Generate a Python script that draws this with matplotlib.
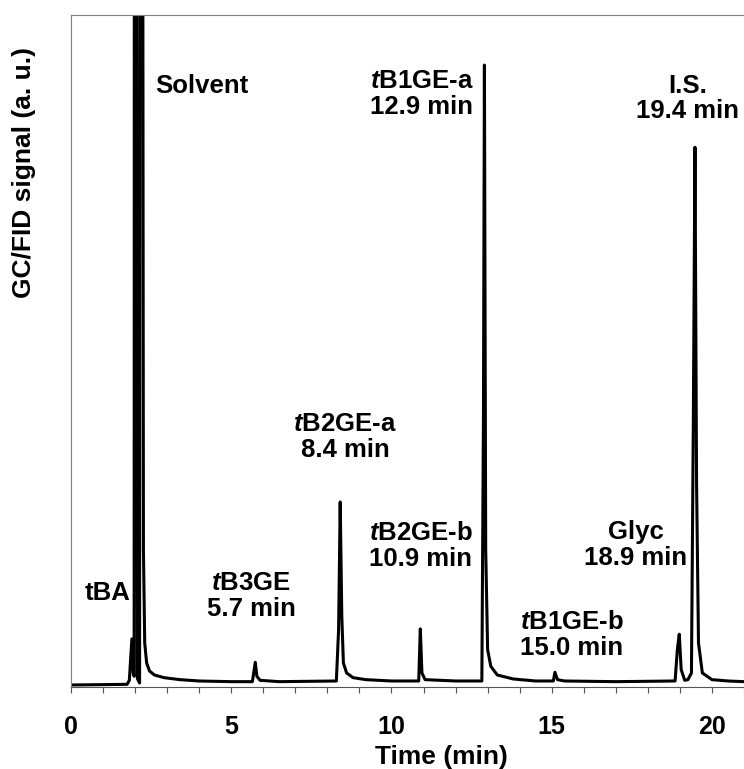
import matplotlib
matplotlib.use("Agg")
import matplotlib.pyplot as plt
from matplotlib.ticker import MultipleLocator

# ----------------------------------------------------------------------
# Data (time in min, signal in a.u.)
# ----------------------------------------------------------------------
time_min = [
    0.00, 1.75, 1.82, 1.90, 1.94, 1.97, 1.99, 2.07, 2.14, 2.18,
    2.26, 2.30, 2.36, 2.45, 2.60, 2.90, 3.40, 4.00, 5.00, 5.66,
    5.75, 5.80, 5.90, 6.50, 8.28, 8.35, 8.40, 8.45, 8.50, 8.60,
    8.80, 9.20, 10.00, 10.85, 10.90, 10.95, 11.05, 12.00, 12.82, 12.87,
    12.90, 12.94, 13.00, 13.10, 13.30, 13.80, 14.50, 15.05, 15.10, 15.18,
    15.40, 17.00, 18.85, 18.92, 18.98, 19.04, 19.15, 19.25, 19.36, 19.42,
    19.47, 19.52, 19.58, 19.70, 20.00, 20.50, 21.00,
]
signal = [
    -0.3, -0.2, 0.4, 6.6, 1.5, 1.0, 400, 0.7, 0.0, 400,
    20, 6.0, 3.0, 1.8, 1.2, 0.8, 0.5, 0.3, 0.2, 0.2,
    3.1, 1.0, 0.4, 0.2, 0.3, 8.0, 27.1, 10.0, 3.0, 1.5,
    0.8, 0.5, 0.3, 0.3, 8.1, 1.5, 0.5, 0.3, 0.3, 40,
    92.5, 20, 5.0, 2.5, 1.2, 0.6, 0.3, 0.3, 1.6, 0.5,
    0.3, 0.2, 0.3, 5.0, 7.3, 2.0, 0.4, 0.5, 1.5, 40,
    80.2, 30, 6.0, 1.5, 0.5, 0.3, 0.2,
]

peak_labels = [
    "tBA", "Solvent", "$\\mathit{t}$B3GE\n5.7 min", "$\\mathit{t}$B2GE-a\n8.4 min",
    "$\\mathit{t}$B2GE-b\n10.9 min", "$\\mathit{t}$B1GE-a\n12.9 min",
    "$\\mathit{t}$B1GE-b\n15.0 min", "Glyc\n18.9 min", "I.S.\n19.4 min",
]
# label anchor (centre of the text block) in data units
label_x = [1.14, 4.09, 5.62, 8.55, 10.92, 10.94, 15.62, 17.63, 19.25]
label_y = [13.5, 89.4, 13.0, 36.8, 20.5, 88.2, 7.2, 20.7, 87.5]

plt.rcParams["font.family"] = ["Liberation Sans", "DejaVu Sans"]
plt.rcParams["font.weight"] = "bold"
plt.rcParams["mathtext.fontset"] = "custom"
plt.rcParams["mathtext.rm"] = "Liberation Sans:bold"
plt.rcParams["mathtext.it"] = "Liberation Sans:bold:italic"
plt.rcParams["mathtext.bf"] = "Liberation Sans:bold"

fig = plt.figure(figsize=(7.44, 7.69), dpi=100)
ax = fig.add_axes([71 / 744, 82 / 769, 673 / 744, 672 / 769])

ax.plot(time_min, signal, color="black", lw=2.2, solid_joinstyle="round")

for txt, x, y in zip(peak_labels, label_x, label_y):
    ax.text(x, y, txt, ha="center", va="center", fontsize=18.5,
            fontweight="bold", linespacing=1.1, multialignment="center")

ax.set_xlim(0, 21.0)
ax.set_ylim(-0.6, 100)

ax.xaxis.set_major_locator(MultipleLocator(5))
ax.xaxis.set_minor_locator(MultipleLocator(1))
ax.tick_params(axis="x", which="both", direction="out", length=4, width=0.8,
               color="#555555", labelsize=18, pad=16)
ax.tick_params(axis="y", left=False, labelleft=False)
for lab in ax.get_xticklabels():
    lab.set_fontweight("bold")

ax.spines["right"].set_visible(False)
ax.spines["left"].set_color("#808080")
ax.spines["top"].set_color("#808080")
ax.spines["bottom"].set_color("#555555")
for s in ("left", "top", "bottom"):
    ax.spines[s].set_linewidth(0.8)

ax.set_xlabel("Time (min)", fontsize=19, fontweight="bold")
ax.xaxis.set_label_coords((441 - 71) / 673, (687 - 757) / 672)
ax.xaxis.label.set_va("center")

ax.set_ylabel("GC/FID signal (a. u.)", fontsize=19, fontweight="bold")
ax.yaxis.set_label_coords((24 - 71) / 673, (687 - 173) / 672)
ax.yaxis.label.set_va("center")

fig.savefig("out.png", dpi=100)
